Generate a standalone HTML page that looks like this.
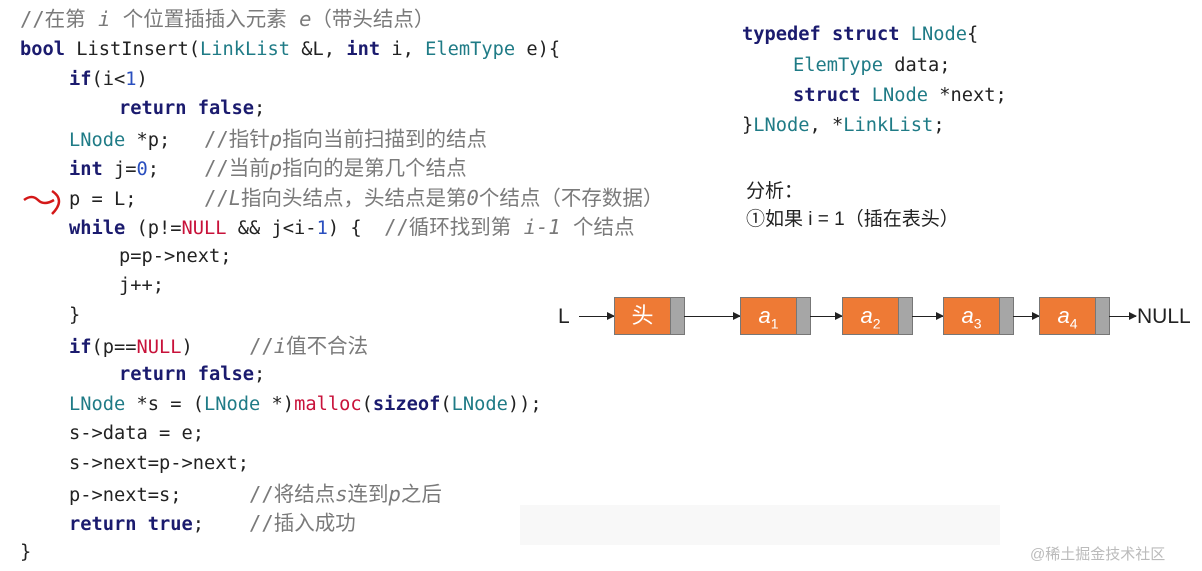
<!DOCTYPE html>
<html><head><meta charset="utf-8"><style>
body{margin:0;width:1202px;height:571px;background:#fff;position:relative;overflow:hidden;font-family:"DejaVu Sans Mono","Liberation Mono","Noto Sans CJK SC",monospace;}
.l{position:absolute;font-size:18.7px;white-space:pre;color:#222;line-height:24px;}
.k{color:#1b1b6e;font-weight:bold}
.t{color:#1f7b86}
.n{color:#2a4fbf}
.r{color:#c8123a}
.c{color:#7a7a7a;font-size:20.5px}
.c i{font-style:italic}
.node{position:absolute;top:297px;height:38px;width:70px;}
.node .o{position:absolute;left:0;top:0;width:55px;height:36px;background:#ee7a35;border:1px solid #777;color:#fff;font:italic 22px "Liberation Sans",sans-serif;text-align:center;line-height:36px}
.node .g{position:absolute;left:56px;top:0;width:13px;height:36px;background:#a6a6a6;border:1px solid #777}
.node sub{font-size:14px;font-style:normal}
.a{position:absolute;height:1px;background:#222;top:316px}
.a:after{content:"";position:absolute;right:-1px;top:-4px;border-left:8px solid #222;border-top:4.5px solid transparent;border-bottom:4.5px solid transparent}
.s{font-family:"Liberation Sans","Noto Sans CJK SC",sans-serif;position:absolute;font-size:19px;color:#222}
</style></head><body>
<div class="l c" style="left:20px;top:7px">//在第 <i>i</i> 个位置插插入元素 <i>e</i>（带头结点）</div>
<div class="l" style="left:20px;top:38px"><span class="k">bool</span> ListInsert(<span class="t">LinkList</span> &amp;L, <span class="k">int</span> i, <span class="t">ElemType</span> e){</div>
<div class="l" style="left:69px;top:68px"><span class="k">if</span>(i&lt;<span class="n">1</span>)</div>
<div class="l" style="left:119px;top:97px"><span class="k">return false</span>;</div>
<div class="l" style="left:69px;top:127px"><span class="t">LNode</span> *p;   <span class="c">//指针<i>p</i>指向当前扫描到的结点</span></div>
<div class="l" style="left:69px;top:156px"><span class="k">int</span> j=<span class="n">0</span>;    <span class="c">//当前<i>p</i>指向的是第几个结点</span></div>
<div class="l" style="left:69px;top:186px">p = L;      <span class="c">//<i>L</i>指向头结点，头结点是第<i>0</i>个结点（不存数据）</span></div>
<div class="l" style="left:69px;top:215px"><span class="k">while</span> (p!=<span class="r">NULL</span> &amp;&amp; j&lt;i-<span class="n">1</span>) {  <span class="c">//循环找到第 <i>i-1</i> 个结点</span></div>
<div class="l" style="left:119px;top:245px">p=p-&gt;next;</div>
<div class="l" style="left:119px;top:274px">j++;</div>
<div class="l" style="left:69px;top:304px">}</div>
<div class="l" style="left:69px;top:334px"><span class="k">if</span>(p==<span class="r">NULL</span>)     <span class="c">//<i>i</i>值不合法</span></div>
<div class="l" style="left:119px;top:363px"><span class="k">return false</span>;</div>
<div class="l" style="left:69px;top:393px"><span class="t">LNode</span> *s = (<span class="t">LNode</span> *)<span class="r">malloc</span>(<span class="k">sizeof</span>(<span class="t">LNode</span>));</div>
<div class="l" style="left:69px;top:422px">s-&gt;data = e;</div>
<div class="l" style="left:69px;top:452px">s-&gt;next=p-&gt;next;</div>
<div class="l" style="left:69px;top:482px">p-&gt;next=s;      <span class="c">//将结点<i>s</i>连到<i>p</i>之后</span></div>
<div class="l" style="left:69px;top:511px"><span class="k">return true</span>;    <span class="c">//插入成功</span></div>
<div class="l" style="left:20px;top:541px">}</div>
<svg style="position:absolute;left:22px;top:188px" width="46" height="32"><path d="M2 12 Q10 6 16 12 T32 12 M30 3 Q44 12 30 26" stroke="#d41818" stroke-width="2.5" fill="none"/></svg>

<div class="l" style="left:742px;top:23px"><span class="k">typedef struct</span> <span class="t">LNode</span>{</div>
<div class="l" style="left:793px;top:54px"><span class="t">ElemType</span> data;</div>
<div class="l" style="left:793px;top:84px"><span class="k">struct</span> <span class="t">LNode</span> *next;</div>
<div class="l" style="left:742px;top:114px">}<span class="t">LNode</span>, *<span class="t">LinkList</span>;</div>
<div class="s" style="left:746px;top:176px">分析：</div>
<div class="s" style="left:746px;top:204px">①如果 i = 1（插在表头）</div>

<div class="s" style="left:558px;top:305px;font-size:21px">L</div>
<div class="a" style="left:579px;width:35px"></div>
<div class="node" style="left:614px"><div class="o" style="font-style:normal">头</div><div class="g"></div></div>
<div class="a" style="left:684px;width:56px"></div>
<div class="node" style="left:740px"><div class="o">a<sub>1</sub></div><div class="g"></div></div>
<div class="a" style="left:810px;width:32px"></div>
<div class="node" style="left:842px"><div class="o">a<sub>2</sub></div><div class="g"></div></div>
<div class="a" style="left:912px;width:31px"></div>
<div class="node" style="left:943px"><div class="o">a<sub>3</sub></div><div class="g"></div></div>
<div class="a" style="left:1013px;width:26px"></div>
<div class="node" style="left:1039px"><div class="o">a<sub>4</sub></div><div class="g"></div></div>
<div class="a" style="left:1109px;width:27px"></div>
<div class="s" style="left:1137px;top:305px;font-size:21px">NULL</div>

<div style="position:absolute;left:520px;top:505px;width:480px;height:40px;background:#f4f4f4;opacity:.6"></div>
<div class="s" style="left:1030px;top:543px;font-size:15px;color:#bbb">@稀土掘金技术社区</div>
</body></html>
